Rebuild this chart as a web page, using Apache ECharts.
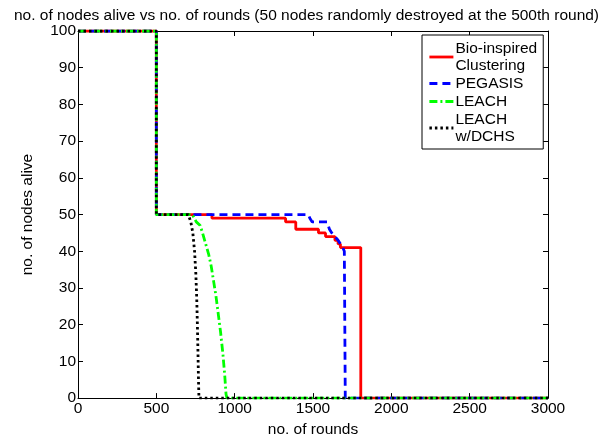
<!DOCTYPE html>
<html>
<head>
<meta charset="utf-8">
<script src="https://cdn.jsdelivr.net/npm/echarts@6/dist/echarts.min.js"></script>
<style>
  html, body { margin: 0; padding: 0; background: #fff; }
  #chart { width: 613px; height: 443px; }
</style>
</head>
<body>
<div id="chart"></div>
<script>
// Nodes alive per round for each protocol; 50 nodes destroyed at round 500.
const seriesNames = ['Bio-inspired\nClustering', 'PEGASIS', 'LEACH', 'LEACH\nw/DCHS'];

const bioInspired = [
  [0, 100], [500, 100], [500, 50], [855, 50], [855, 49], [1325, 49], [1325, 48],
  [1390, 48], [1390, 46], [1535, 46], [1535, 45], [1580, 45], [1580, 44],
  [1640, 44], [1640, 43], [1660, 43], [1660, 42], [1675, 42], [1675, 41],
  [1805, 41], [1805, 0], [3000, 0]
];
const pegasis = [
  [0, 100], [500, 100], [500, 50], [1470, 50], [1480, 49], [1495, 48],
  [1590, 48], [1605, 46], [1620, 45], [1640, 44], [1660, 43], [1675, 42],
  [1690, 41], [1700, 40], [1706, 40], [1706, 0], [3000, 0]
];
const leach = [
  [0, 100], [500, 100], [500, 50], [730, 50], [755, 48], [780, 47], [795, 45],
  [815, 42], [835, 39], [850, 36], [865, 32], [880, 28], [895, 23], [910, 18],
  [925, 12], [937, 6], [945, 1], [951, 0], [3000, 0]
];
const leachDchs = [
  [0, 100], [500, 100], [500, 50], [704, 50], [720, 48], [733, 45], [744, 40],
  [752, 34], [758, 27], [762, 20], [766, 12], [769, 5], [772, 0], [3000, 0]
];

const xTicks = { min: 0, max: 3000, step: 500 };
const yTicks = { min: 0, max: 100, step: 10 };

const font = 'Liberation Sans, Arial, Helvetica, sans-serif';

const chart = echarts.init(document.getElementById('chart'), null, { renderer: 'canvas' });

function mkSeries(name, data, color, type, width) {
  return {
    name: name,
    type: 'line',
    data: data,
    symbol: 'none',
    animation: false,
    lineStyle: { color: color, width: width, type: type },
    itemStyle: { color: color }
  };
}

const axisLine = { show: true, onZero: false, lineStyle: { color: '#000', width: 1 } };
const tickIn = { show: true, inside: true, length: 5, lineStyle: { color: '#000' } };
const plain = v => String(v);

chart.setOption({
  animation: false,
  backgroundColor: '#fff',
  textStyle: { fontFamily: font },
  title: {
    text: 'no. of nodes alive vs no. of rounds (50 nodes randomly destroyed at the 500th round)',
    left: 'center',
    top: 3,
    textStyle: { fontFamily: font, fontSize: 15.5, fontWeight: 'normal', color: '#000' }
  },
  grid: { left: 78, right: 65, top: 31, bottom: 35 },
  legend: {
    orient: 'vertical',
    left: 422,
    top: 35,
    width: 121,
    padding: [5, 6, 4, 6],
    itemGap: 1,
    itemWidth: 24,
    itemHeight: 12,
    borderColor: '#000',
    borderWidth: 1,
    backgroundColor: '#fff',
    itemStyle: { color: 'rgba(0,0,0,0)', borderWidth: 0 },
    lineStyle: { width: 2.8 },
    textStyle: { fontFamily: font, fontSize: 15.5, color: '#000', lineHeight: 17, padding: [0, 0, 0, -3] },
    data: seriesNames
  },
  xAxis: [
    {
      type: 'value', position: 'bottom',
      min: xTicks.min, max: xTicks.max, interval: xTicks.step,
      name: 'no. of rounds', nameLocation: 'middle', nameGap: 22,
      nameTextStyle: { fontFamily: font, fontSize: 15.5, color: '#000' },
      axisLine: axisLine, axisTick: tickIn,
      axisLabel: { color: '#000', fontSize: 15.5, fontFamily: font, margin: 3, formatter: plain },
      splitLine: { show: false }
    },
    {
      type: 'value', position: 'top',
      min: xTicks.min, max: xTicks.max, interval: xTicks.step,
      axisLine: axisLine, axisTick: tickIn, axisLabel: { show: false },
      splitLine: { show: false }
    }
  ],
  yAxis: [
    {
      type: 'value', position: 'left',
      min: yTicks.min, max: yTicks.max, interval: yTicks.step,
      name: 'no. of nodes alive', nameLocation: 'middle', nameGap: 42,
      nameTextStyle: { fontFamily: font, fontSize: 15.5, color: '#000' },
      axisLine: axisLine, axisTick: tickIn,
      axisLabel: { color: '#000', fontSize: 15.5, fontFamily: font, margin: 2, formatter: plain },
      splitLine: { show: false }
    },
    {
      type: 'value', position: 'right',
      min: yTicks.min, max: yTicks.max, interval: yTicks.step,
      axisLine: axisLine, axisTick: tickIn, axisLabel: { show: false },
      splitLine: { show: false }
    }
  ],
  series: [
    mkSeries(seriesNames[0], bioInspired, '#ff0000', 'solid', 2.8),
    mkSeries(seriesNames[1], pegasis, '#0000ff', [8, 5], 2.8),
    mkSeries(seriesNames[2], leach, '#00ff00', [8, 3, 2, 3], 2.8),
    mkSeries(seriesNames[3], leachDchs, '#000000', [2.5, 3], 2.8)
  ]
});
</script>
</body>
</html>
